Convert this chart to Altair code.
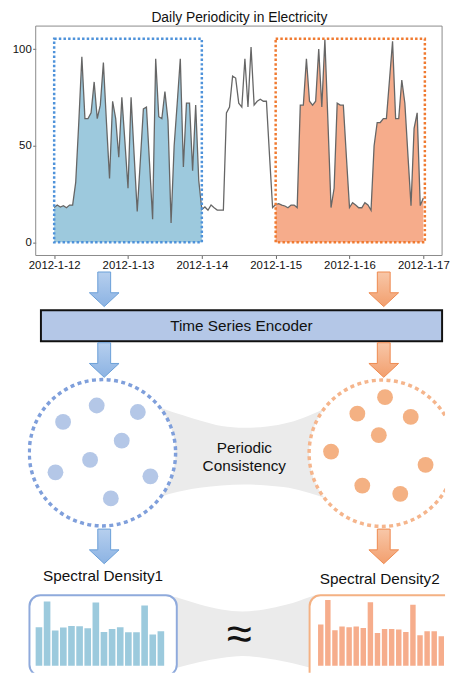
import altair as alt
import pandas as pd

# ---------------- data ----------------
title_text = "Daily Periodicity in Electricity"
day_labels = ["2012-1-12", "2012-1-13", "2012-1-14", "2012-1-15", "2012-1-16", "2012-1-17"]
day_ticks = [0, 24, 48, 72, 96, 120]          # hours since 2012-1-12 00:00
y_ticks = [0, 50, 100]
hours = list(range(121))
load = [18, 19.3, 18.3, 19, 17.9, 19.3, 19.3, 31, 62, 96,
        64, 64, 67, 83, 64, 71, 93, 62, 33, 73,
        64, 44, 75, 52, 28, 75, 45, 16, 42, 69,
        70, 41, 12, 95, 65, 64, 78, 63, 10, 50,
        72, 95, 39, 72, 72, 37, 71, 32, 17, 18.3,
        16.6, 19.3, 17.9, 16.7, 16.7, 16.7, 67, 70, 86, 85,
        72, 70, 95, 70, 101, 71, 73, 74, 73, 73,
        45, 18, 19.6, 20, 19.3, 18.8, 17.9, 19.3, 19.3, 18,
        71, 71, 95, 73, 71, 73, 100, 70, 105, 62,
        18, 28, 72, 71, 71, 44, 18, 20.5, 19.3, 17.9,
        17.9, 20.5, 19.3, 16.6, 50, 62, 62, 64, 64, 84,
        104, 64, 64, 84, 72, 45, 19, 59, 67, 19,
        23]
window_name = ["view1", "view2"]
window_start = [0, 72]
window_end = [48, 120.5]
window_top = [105.3, 105.3]

spectral1 = [39, 65, 35.7, 38.7, 40.3, 40, 38, 64, 34.3, 37.3, 39, 34, 34, 61, 31.7, 35]
spectral2 = [41.7, 66.7, 36, 39.7, 39, 39.7, 38.3, 64.3, 33.3, 37.3, 37.3, 36.7, 34.3, 61.7,
             31, 35, 35, 30, 40.7]

emb1_x = [95.7, 137.3, 61.7, 121, 89, 54, 150, 110]
emb1_y = [406.7, 413.3, 423.3, 442.3, 461.7, 474.3, 478.3, 500.7]
emb2_x = [387.3, 359.3, 413.3, 381, 332.7, 428.3, 364.3, 402.7]
emb2_y = [398.3, 415, 418.3, 436.7, 453.3, 466.7, 487.7, 496]

# ---------------- styles / layout ----------------
FONT = "Liberation Sans"
BLUE_FILL = "#9dc9dd"
ORANGE_FILL = "#f6ac8b"
BLUE_DOT = "#4e92da"
ORANGE_DOT = "#f07a30"
LIGHT_BLUE = "#b4c7e7"
LIGHT_ORANGE = "#f4b183"

# bottom diagram uses a 1 unit = 1 px coordinate frame
BOT_LEFT, BOT_RIGHT = 26, 448
BOT_TOP, BOT_BOTTOM = 255, 677
XB = alt.Scale(domain=[BOT_LEFT, BOT_RIGHT], nice=False, zero=False)
YB = alt.Scale(domain=[BOT_BOTTOM, BOT_TOP], nice=False, zero=False)


def bx(f):
    return alt.X(f, type="quantitative", scale=XB, axis=None)


def by(f):
    return alt.Y(f, type="quantitative", scale=YB, axis=None)


# ---------------- top chart ----------------
X_MIN, X_MAX = -8.58, 126.1
Y_MIN, Y_MAX = -6.8, 111.9
FRAME_X0 = -6.0
xs = alt.Scale(domain=[X_MIN, X_MAX], nice=False, zero=False)
ys = alt.Scale(domain=[Y_MIN, Y_MAX], nice=False, zero=False)
label_expr = "[" + ",".join("'" + d + "'" for d in day_labels) + "][round(datum.value/24)]"
x_axis = alt.Axis(values=day_ticks, labelExpr=label_expr, title=None, grid=False, domain=False,
                  tickSize=3, tickColor="#666666", labelFont=FONT, labelFontSize=11.5,
                  labelColor="#111111", labelPadding=1, labelFlush=False)
y_axis = alt.Axis(values=y_ticks, title=None, grid=False, domain=False, tickSize=3,
                  tickColor="#666666", labelFont=FONT, labelFontSize=11.5,
                  labelColor="#111111", labelPadding=1.5, offset=-8)

ts = pd.DataFrame({"h": hours, "v": load})
X = alt.X("h:Q", scale=xs, axis=x_axis)
Y = alt.Y("v:Q", scale=ys, axis=y_axis)

frame = alt.Chart(pd.DataFrame({"x0": [FRAME_X0], "x1": [X_MAX], "y0": [Y_MIN], "y1": [Y_MAX]})).mark_rect(
    filled=False, stroke="#8a8a8a", strokeWidth=1, opacity=1).encode(
    x=alt.X("x0:Q", scale=xs, axis=x_axis), x2="x1:Q",
    y=alt.Y("y0:Q", scale=ys, axis=y_axis), y2="y1:Q")
area1 = alt.Chart(ts).transform_filter("datum.h <= 48").mark_area(
    color=BLUE_FILL, opacity=1).encode(x=X, y=Y, y2=alt.datum(0))
area2 = alt.Chart(ts).transform_filter("datum.h >= 72").mark_area(
    color=ORANGE_FILL, opacity=1).encode(x=X, y=Y, y2=alt.datum(0))
line = alt.Chart(ts).mark_line(color="#666666", strokeWidth=1.3).encode(x=X, y=Y)

win = pd.DataFrame({"name": window_name, "x0": window_start, "x1": window_end, "top": window_top})
rects = alt.Chart(win).mark_rect(filled=False, strokeWidth=2.5, strokeDash=[2.5, 2.2], opacity=1).encode(
    x=alt.X("x0:Q", scale=xs, axis=x_axis), x2="x1:Q",
    y=alt.Y("top:Q", scale=ys, axis=y_axis), y2=alt.datum(0),
    color=alt.Color("name:N", scale=alt.Scale(domain=window_name, range=[BLUE_DOT, ORANGE_DOT]),
                    legend=None))

# chart title, placed just above the frame
ttl = alt.Chart(pd.DataFrame({"x": [60.2], "y": [113.8], "t": [title_text]})).mark_text(
    font=FONT, fontSize=14, color="#111111", align="center", baseline="alphabetic").encode(
    x=alt.X("x:Q", scale=xs, axis=x_axis), y=alt.Y("y:Q", scale=ys, axis=y_axis), text="t:N")

top = alt.layer(frame, area1, area2, line, rects, ttl).properties(width=419, height=232)

# ---------------- bottom diagram ----------------
band1 = pd.DataFrame({
    "x": [150, 163, 183, 200, 222, 245, 268, 290, 310, 330, 340],
    "t": [404, 410, 416.5, 422, 427.5, 429.3, 428, 424, 417, 408, 403],
    "b": [504, 498.3, 493, 490, 487.5, 486.7, 487.5, 490, 495, 501.7, 506]})
band2 = pd.DataFrame({
    "x": [170, 177, 200, 222, 243, 265, 288, 312, 318],
    "t": [599, 601, 608, 613, 615, 613, 608, 600, 598],
    "b": [674, 672, 666, 662, 660, 662, 666, 672, 674]})
band_l1 = alt.Chart(band1).mark_area(color="#ebebeb", opacity=1, interpolate="monotone", clip=True).encode(
    x=bx("x"), y=by("t"), y2="b")
band_l2 = alt.Chart(band2).mark_area(color="#ebebeb", opacity=1, interpolate="monotone", clip=True).encode(
    x=bx("x"), y=by("t"), y2="b")

circ_l = alt.Chart(pd.DataFrame({"x": [101.5], "y": [454.5]})).mark_point(
    shape="circle", filled=True, fill="white", stroke="#7f9fdb", strokeWidth=3.5,
    strokeDash=[4, 3.5], size=148 * 148, opacity=1, clip=True).encode(x=bx("x"), y=by("y"))
circ_r = alt.Chart(pd.DataFrame({"x": [384.5], "y": [455]})).mark_point(
    shape="circle", filled=True, fill="white", stroke="#f5b58c", strokeWidth=3.5,
    strokeDash=[4, 3.5], size=148 * 148, opacity=1, clip=True).encode(x=bx("x"), y=by("y"))

dots1 = alt.Chart(pd.DataFrame({"x": emb1_x, "y": emb1_y})).mark_point(
    shape="circle", filled=True, color=LIGHT_BLUE, size=256, opacity=1, clip=True).encode(
    x=bx("x"), y=by("y"))
dots2 = alt.Chart(pd.DataFrame({"x": emb2_x, "y": emb2_y})).mark_point(
    shape="circle", filled=True, color=LIGHT_ORANGE, size=256, opacity=1, clip=True).encode(
    x=bx("x"), y=by("y"))

enc = alt.Chart(pd.DataFrame({"x0": [39.3], "x1": [445], "y0": [310.3], "y1": [341.7]})).mark_rect(
    fill=LIGHT_BLUE, stroke="#111111", strokeWidth=2, opacity=1, clip=True).encode(
    x=bx("x0"), x2="x1", y=by("y0"), y2="y1")

ARROW = "M-0.371,-1L0.371,-1L0.371,0.2L0.857,0.2L0,1L-0.857,0.2L-0.371,0.2Z"
grad_b = alt.LinearGradient(gradient="linear", x1=0, x2=0, y1=0, y2=1,
                            stops=[alt.GradientStop(color="#b6cfee", offset=0),
                                   alt.GradientStop(color="#8cb3e3", offset=1)])
grad_o = alt.LinearGradient(gradient="linear", x1=0, x2=0, y1=0, y2=1,
                            stops=[alt.GradientStop(color="#f8c7a8", offset=0),
                                   alt.GradientStop(color="#f29f6e", offset=1)])
arrow_y = [289.2, 360.7, 549.2]
arr_b = alt.Chart(pd.DataFrame({"x": [103.3] * 3, "y": arrow_y})).mark_point(
    shape=ARROW, filled=True, fill=grad_b, stroke="#6a9fd8", strokeWidth=1, size=35 * 35,
    opacity=1, clip=True).encode(x=bx("x"), y=by("y"))
arr_o = alt.Chart(pd.DataFrame({"x": [386] * 3, "y": arrow_y})).mark_point(
    shape=ARROW, filled=True, fill=grad_o, stroke="#ee8a50", strokeWidth=1, size=35 * 35,
    opacity=1, clip=True).encode(x=bx("x"), y=by("y"))

box_l = alt.Chart(pd.DataFrame({"x0": [27.7], "x1": [176.7], "y0": [598.7], "y1": [680]})).mark_rect(
    fill="white", stroke="#8faadc", strokeWidth=2, cornerRadius=11, opacity=1, clip=True).encode(
    x=bx("x0"), x2="x1", y=by("y0"), y2="y1")
box_r = alt.Chart(pd.DataFrame({"x0": [311], "x1": [475], "y0": [598.7], "y1": [690]})).mark_rect(
    fill="white", stroke=LIGHT_ORANGE, strokeWidth=2, cornerRadius=11, opacity=1, clip=True).encode(
    x=bx("x0"), x2="x1", y=by("y0"), y2="y1")

BASE_Y = 670
s1 = pd.DataFrame({"i": list(range(len(spectral1))), "v": spectral1})
s1["xc"] = 37.3 + s1["i"] * 8.22
s1["x0"] = s1["xc"] - 3.35
s1["x1"] = s1["xc"] + 3.35
s1["yt"] = BASE_Y - s1["v"]
s1["yb"] = BASE_Y
s2 = pd.DataFrame({"i": list(range(len(spectral2))), "v": spectral2})
s2["xc"] = 322.3 + s2["i"] * 7.17
s2["x0"] = s2["xc"] - 2.75
s2["x1"] = s2["xc"] + 2.75
s2["yt"] = BASE_Y - s2["v"]
s2["yb"] = BASE_Y
bars1 = alt.Chart(s1).mark_rect(color="#9ccadd", opacity=1, clip=True).encode(
    x=bx("x0"), x2="x1", y=by("yt"), y2="yb")
bars2 = alt.Chart(s2).mark_rect(color="#f6ad8c", opacity=1, clip=True).encode(
    x=bx("x0"), x2="x1", y=by("yt"), y2="yb")

texts = pd.DataFrame({
    "x": [242, 245, 245, 102.2, 382],
    "y": [331.3, 455, 473.3, 584, 587.3],
    "t": ["Time Series Encoder", "Periodic", "Consistency", "Spectral Density1", "Spectral Density2"]})
txt = alt.Chart(texts).mark_text(font=FONT, fontSize=15.5, color="#111111", align="center",
                                 baseline="alphabetic", clip=True).encode(
    x=bx("x"), y=by("y"), text="t:N")
approx = alt.Chart(pd.DataFrame({"x": [240], "y": [653], "t": ["≈"]})).mark_text(
    font=FONT, fontSize=46, color="#111111", align="center", baseline="alphabetic", clip=True).encode(
    x=bx("x"), y=by("y"), text="t:N")

bottom = alt.layer(band_l1, band_l2, circ_l, circ_r, dots1, dots2, enc, arr_b, arr_o,
                   box_l, box_r, bars1, bars2, txt, approx).properties(
    width=BOT_RIGHT - BOT_LEFT, height=BOT_BOTTOM - BOT_TOP)

chart = alt.vconcat(top, bottom, spacing=0, bounds="flush").properties(
    padding={"left": 3, "top": -1.5, "right": 0, "bottom": 0}
).configure_view(stroke="transparent")

chart.save("out.html", embed_options={"renderer": "svg", "actions": False})
